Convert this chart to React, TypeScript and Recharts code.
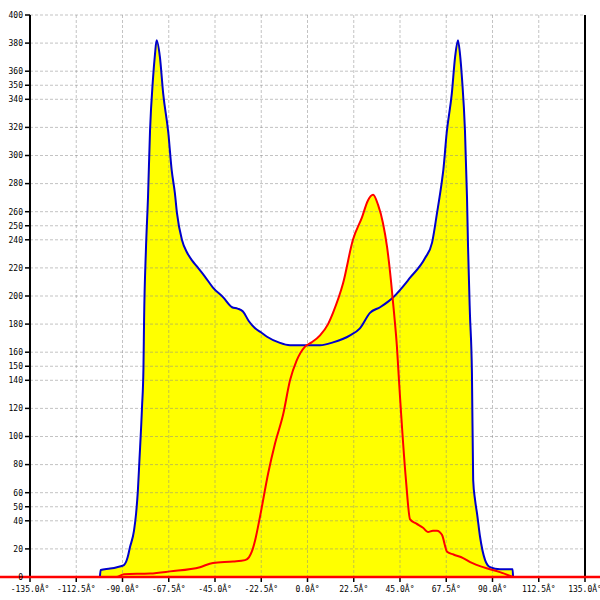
import React from "react";
import { ComposedChart, Area, Line, XAxis, YAxis, CartesianGrid, ReferenceLine } from "recharts";

const blueAngles = [
  -101, -100.6, -96, -92.7, -89.3, -87.5, -86.4, -84.4, -83.4, -82.5, -81.8, -80.5, -79.8, -79.5,
  -78.6, -77.6, -76.6, -75.2, -74.2, -73.4, -71.8, -70.2, -67.7, -66.1, -64.5, -63.5, -61.1,
  -58.6, -56, -53.8, -50, -46, -41, -36.7, -34, -31.4, -28.5, -25.5, -22.5, -19.7, -14, -8.5,
  0, 6.1, 12.4, 20.7, 25.5, 30.4, 35.3, 39.2, 41.6, 49.9, 57.2, 60.6, 63, 65.4, 66.1, 67.7,
  70.2, 71.8, 73.2, 74.2, 75.2, 76.6, 77.6, 78.1, 79, 80, 80.6, 81.5, 82.5, 83.9, 86.4, 88.8,
  93.6, 99.8, 100,
];
const blueValues = [
  0, 5, 6, 7, 8.5, 14, 21, 33, 45, 62, 82, 121, 149, 183,
  233, 270, 318, 354, 372, 382, 370, 344, 316, 290, 273, 259, 240,
  231, 225, 221, 214, 206, 199, 192, 191, 189, 182, 177, 174, 171, 167, 165,
  165, 165, 167, 172, 177, 188, 192, 196, 199, 213, 227, 238, 259, 282, 290, 316,
  344, 370, 382, 372, 354, 318, 270, 235, 188, 145, 69, 55, 45, 29, 12, 7,
  5.5, 5.5, 0,
];

const redAngles = [
  -101, -93, -89.3, -76.6, -66.9, -52.3, -46, -36.2, -30.4, -28.5, -27.1, -25.5, -23.1, -19.1,
  -15.8, -11.8, -8.5, -5.3, -1.2, 2, 6.1, 10, 12.4, 17.3, 22.1, 26.5, 29.4, 31.9, 34.3, 36.7,
  38.7, 40.6, 42.1, 43.5, 44.5, 47.9, 49.9, 53, 56.2, 58.6, 61, 63, 65.4, 67.9, 71, 75.7, 80,
  85.4, 93.6, 100,
];
const redValues = [
  0, 0, 2, 2.5, 4, 7, 10, 11, 12, 14, 18, 26, 43, 74,
  95, 116, 140, 154, 164, 167, 172, 180, 188, 209, 240, 256, 268, 272, 265, 252,
  235, 211, 188, 164, 140, 69, 41, 38, 35, 32, 33, 33, 30, 18, 16, 13.5, 10,
  7, 3.5, 0,
];

const xTicks = [-135, -112.5, -90, -67.5, -45, -22.5, 0, 22.5, 45, 67.5, 90, 112.5, 135];
const yTicks = [
  0, 20, 40, 50, 60, 80, 100, 120, 140, 150, 160, 180, 200, 220, 240, 250, 260, 280, 300,
  320, 340, 350, 360, 380, 400,
];

const blueData = blueAngles.map((a, i) => ({ angle: a, blue: blueValues[i] }));
const redData = redAngles.map((a, i) => ({ angle: a, red: redValues[i] }));

const tickStyle = { fontSize: 8, fontFamily: "DejaVu Sans Mono", fill: "#000" };

const RedBase = (props: any) => (
  <line x1={0} x2={600} y1={props.y1} y2={props.y2} stroke="#ff0000" strokeWidth={2.5} />
);

export default function App() {
  return (
    <div style={{ position: "fixed", left: 0, top: 0, width: 600, height: 600, background: "#fff" }}>
      <ComposedChart width={600} height={600} margin={{ top: 15, right: 15, bottom: 0, left: 0 }}>
        <XAxis
          type="number"
          dataKey="angle"
          domain={[-135, 135]}
          allowDataOverflow
          ticks={xTicks}
          interval={0}
          height={23}
          tickSize={5}
          tickMargin={4}
          axisLine={false}
          tickLine={{ stroke: "#000", strokeWidth: 1.5 }}
          tick={tickStyle}
          tickFormatter={(v: number) => `${v.toFixed(1)}Â°`}
        />
        <YAxis
          type="number"
          domain={[0, 400]}
          allowDataOverflow
          ticks={yTicks}
          interval={0}
          width={30}
          tickSize={5}
          tickMargin={2}
          axisLine={{ stroke: "#000", strokeWidth: 2 }}
          tickLine={{ stroke: "#000", strokeWidth: 1.5 }}
          tick={tickStyle}
        />
        <Area
          data={blueData}
          dataKey="blue"
          type="monotoneX"
          fill="#ffff00"
          fillOpacity={1}
          stroke="none"
          isAnimationActive={false}
        />
        <Area
          data={redData}
          dataKey="red"
          type="monotoneX"
          fill="#ffff00"
          fillOpacity={1}
          stroke="none"
          isAnimationActive={false}
        />
        <CartesianGrid
          stroke="#888"
          strokeOpacity={0.5}
          strokeDasharray="3 2"
          zIndex={150}
        />
        <Line
          data={blueData}
          dataKey="blue"
          type="monotoneX"
          stroke="#0000cc"
          strokeWidth={2}
          dot={false}
          isAnimationActive={false}
        />
        <Line
          data={redData}
          dataKey="red"
          type="monotoneX"
          stroke="#ff0000"
          strokeWidth={2}
          dot={false}
          isAnimationActive={false}
        />
        <ReferenceLine x={135} stroke="#000" strokeWidth={2} />
        <ReferenceLine y={0} shape={RedBase} zIndex={600} />
      </ComposedChart>
    </div>
  );
}
